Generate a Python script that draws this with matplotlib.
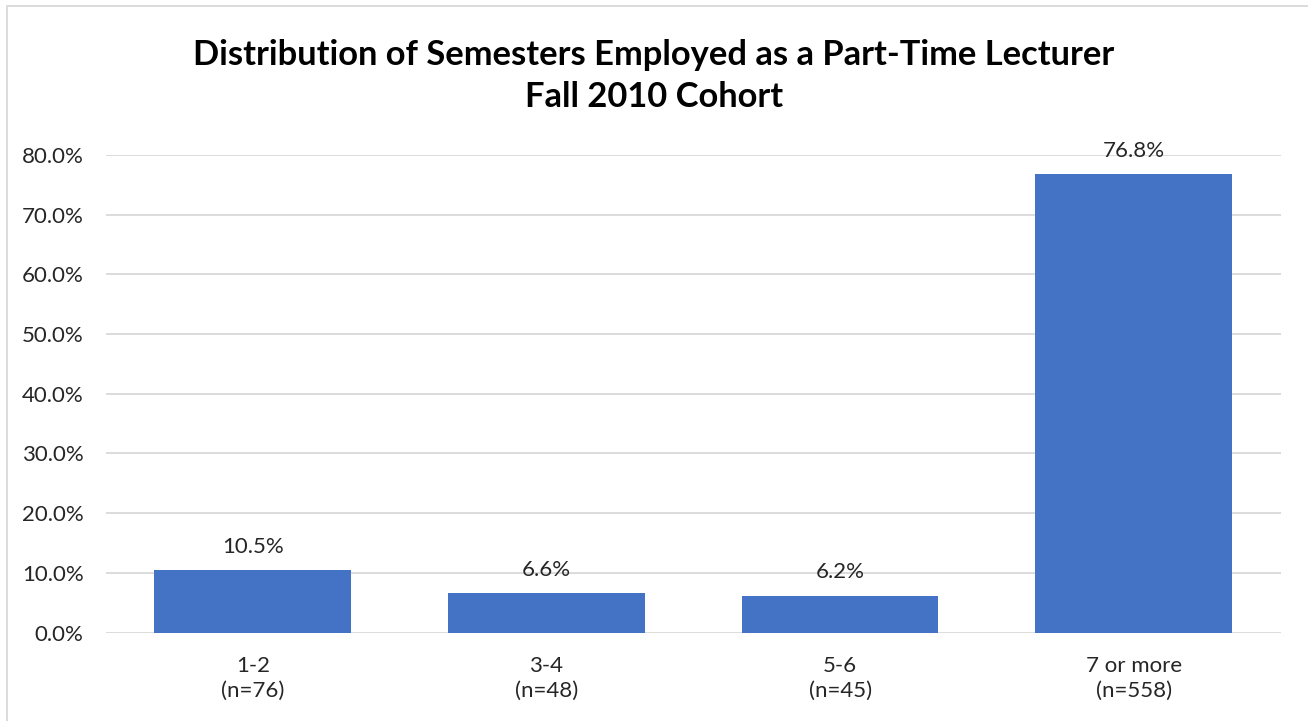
import matplotlib.pyplot as plt
import numpy as np
from matplotlib.patches import Rectangle

plt.rcParams['font.family'] = ['Lato', 'DejaVu Sans']

# data
categories = ['1-2\n(n=76)', '3-4\n(n=48)', '5-6\n(n=45)', '7 or more\n(n=558)']
shares = [10.5, 6.6, 6.2, 76.8]

bar_color = '#4472C4'
text_color = '#262626'

fig = plt.figure(figsize=(13.08, 7.21), dpi=100)
ax = fig.add_axes([0.081, 0.1227, 0.898, 0.6623])

x = np.arange(len(categories))
bars = ax.bar(x, shares, width=0.67, color=bar_color, zorder=3)

ax.set_xlim(-0.5, len(categories) - 0.5)
ax.set_ylim(0, 80)
ax.set_yticks(np.arange(0, 81, 10))
ax.set_yticklabels([f'{v:.1f}%' for v in np.arange(0, 81, 10)], fontsize=16, color=text_color)
ax.set_xticks(x)
ax.set_xticklabels(categories, fontsize=16, color=text_color, linespacing=1.3)
ax.tick_params(axis='both', length=0)
ax.tick_params(axis='y', pad=16)
ax.tick_params(axis='x', pad=17)
ax.grid(axis='y', color='#D9D9D9', linewidth=1.3, zorder=0)
for s in ax.spines.values():
    s.set_visible(False)

# 数值标注
for bar, v in zip(bars, shares):
    ax.text(bar.get_x() + bar.get_width() / 2, v + 2.2, f'{v}%',
            ha='center', va='bottom', fontsize=16, color=text_color)

fig.text(0.5, 0.8946, 'Distribution of Semesters Employed as a Part-Time Lecturer\nFall 2010 Cohort',
         ha='center', va='center', fontsize=24.8, fontweight='bold', color='black', linespacing=1.36)

# 外框
fig.patches.append(Rectangle((7 / 1308, -0.1), 1.2, 1.1 - 6 / 721, transform=fig.transFigure,
                             fill=False, edgecolor='#D9D9D9', linewidth=1.3))

plt.savefig('out.png', dpi=100)
